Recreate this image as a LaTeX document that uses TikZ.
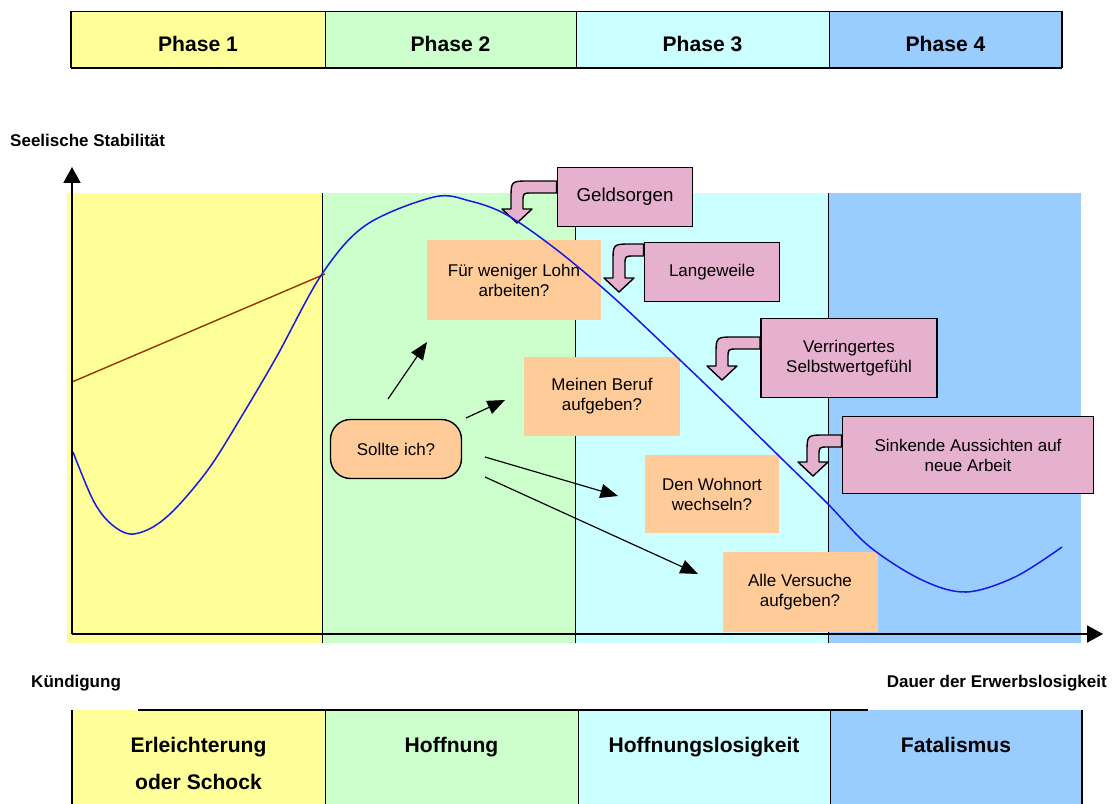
\documentclass[tikz,border=0pt]{standalone}
\usepackage{fontspec}
\setmainfont{Liberation Sans}
\usetikzlibrary{arrows.meta}

\definecolor{phaseyellow}{HTML}{FFFF99}
\definecolor{phasegreen}{HTML}{CCFFCC}
\definecolor{phasecyan}{HTML}{CCFFFF}
\definecolor{phaseblue}{HTML}{99CCFF}
\definecolor{questionorange}{HTML}{FFCC99}
\definecolor{stresspink}{HTML}{E6B1CF}
\definecolor{curveblue}{HTML}{1A1AE6}
\definecolor{linebrown}{HTML}{993300}

\tikzset{
  question/.style={fill=questionorange, align=center, font=\fontsize{14.5}{17}\selectfont},
  stress/.style={draw=black, line width=1.5pt, fill=stresspink, align=center, font=\fontsize{14.5}{17}\selectfont},
  bendarrow/.style={draw=black, line width=1.2pt, fill=stresspink, line join=round},
  choice/.style={line width=1pt, -{Triangle[length=15pt,width=12pt]}},
  axis/.style={line width=1.3pt, -{Triangle[length=13.5pt,width=14.5pt]}},
  divider/.style={line width=0.6pt},
  barlabel/.style={font=\bfseries\fontsize{18}{32}\selectfont, align=center},
  axislabel/.style={font=\bfseries\fontsize{14.5}{17}\selectfont, inner sep=0pt},
}

% #1 box, #2/#3 tip, #4 height of the shaft above the tip
\newcommand{\bentarrow}[4]{%
  \coordinate (inner) at (#2,{#3-#4+6});
  \coordinate (outer) at (#2,{#3-#4-6});
  \draw[bendarrow] (#2,#3) -- ++(15,-14) -- ++(-9,0) -- ({#2+6},{#3-#4+15})
    .. controls ({#2+6},{#3-#4+6}) .. ({#2+15},{#3-#4+6}) -- (inner -| #1.west)
    -- (outer -| #1.west) -- ({#2+12},{#3-#4-6})
    .. controls ({#2-6},{#3-#4-6}) .. ({#2-6},{#3-#4+12}) -- ({#2-6},{#3-14}) -- ++(-9,0) -- cycle;
}

\begin{document}
\begin{tikzpicture}[x=0.03cm, y=-0.03cm]
  \useasboundingbox (0,0) rectangle (1113,803);
  \clip (0,0) rectangle (1113,803);

  % phases on top
  \foreach \name/\xa/\xb/\col/\lab in {phaseA/71/325/phaseyellow/Phase 1, phaseB/325/576/phasegreen/Phase 2,
      phaseC/576/829/phasecyan/Phase 3, phaseD/829/1062/phaseblue/Phase 4}{
    \fill[\col] (\xa,11) rectangle (\xb,68);
    \node[barlabel] (\name) at ({(\xa+\xb)/2},44) {\lab};
    \draw[divider] (\xa,11) -- (\xa,68);
  }
  \draw[divider] (71,11) -- (1062,11);
  \draw[line width=1.5pt] (71,68) -- (1062,68);
  \draw[line width=1.2pt] (71,11) -- (71,68) (1062,11) -- (1062,68);

  % chart background
  \foreach \xa/\xb/\col in {67/322/phaseyellow, 322/575/phasegreen, 575/828/phasecyan, 828/1081/phaseblue}
    \fill[\col] (\xa,193) rectangle (\xb,643);
  \foreach \xd in {322,575,828}
    \draw[divider] (\xd,193) -- (\xd,643);

  \draw[linebrown, line width=1.2pt] (72,382) -- (325,274);

  % questions
  \node[question, minimum width=5.22cm, minimum height=2.4cm] (lohn) at (514,280) {Für weniger Lohn\\arbeiten?};
  \node[question, minimum width=4.68cm, minimum height=2.37cm] (beruf) at (602,396) {Meinen Beruf\\aufgeben?};
  \node[question, minimum width=4.02cm, minimum height=2.34cm] (wohnort) at (712,494) {Den Wohnort\\wechseln?};
  \node[question, minimum width=4.65cm, minimum height=2.4cm] (versuche) at (800,592) {Alle Versuche\\aufgeben?};
  \node[question, draw=black, line width=1.2pt, rounded corners=0.6cm,
        minimum width=3.93cm, minimum height=1.77cm] (sollte) at (396,449) {Sollte ich?};

  % stress factors
  \node[stress, minimum width=4.05cm, minimum height=1.77cm, font=\fontsize{16}{19}\selectfont] (geld) at (625,197) {Geldsorgen};
  \node[stress, minimum width=4.05cm, minimum height=1.77cm] (lange) at (712,272) {Langeweile};
  \node[stress, minimum width=5.28cm, minimum height=2.37cm] (verr) at (849,358) {Verringertes\\Selbstwertgefühl};
  \node[stress, minimum width=7.53cm, minimum height=2.31cm] (sink) at (968,455) {Sinkende Aussichten auf\\neue Arbeit};

  \bentarrow{geld}{517}{223}{36}
  \bentarrow{lange}{619}{292}{42}
  \bentarrow{verr}{722}{380}{37}
  \bentarrow{sink}{813}{476}{35}

  % options of Sollte ich?
  \coordinate (ask1) at (388,399);  \coordinate (opt1) at (427,342);
  \coordinate (ask2) at (466,418);  \coordinate (opt2) at (505,400);
  \coordinate (ask3) at (485,457);  \coordinate (opt3) at (618,496);
  \coordinate (ask4) at (485,477);  \coordinate (opt4) at (698,574);
  \draw[choice] (ask1) -- (opt1);
  \draw[choice] (ask2) -- (opt2);
  \draw[choice] (ask3) -- (opt3);
  \draw[choice] (ask4) -- (opt4);

  % stability curve
  \draw[curveblue, line width=1.3pt] plot[smooth, tension=0.55] coordinates {
    (73,452) (93,500) (110,523) (130,534) (153,527) (177,507) (210,467) (243,414)
    (277,356) (322,274) (366,225) (434,197) (470,201) (507,215) (557,250)
    (613,297) (680,360) (730,408) (780,457) (827,503) (870,547) (922,580) (966,592)
    (1015,577) (1062,547)};

  % axes
  \coordinate (origin) at (72,634);
  \draw[axis] (origin) -- (72,167);
  \draw[axis] (origin) -- (1103,634);
  \node[axislabel, anchor=west] (stab) at (10,140) {Seelische Stabilität};
  \node[axislabel, anchor=west] (kuend) at (31,683) {Kündigung};
  \node[axislabel, anchor=east] (dauer) at (1107,683) {Dauer der Erwerbslosigkeit};

  % feelings at the bottom
  \foreach \name/\xa/\xb/\col/\lab in {feelA/72/325/phaseyellow/{Erleichterung\\oder Schock}, feelB/325/578/phasegreen/Hoffnung,
      feelC/578/830/phasecyan/Hoffnungslosigkeit, feelD/830/1082/phaseblue/Fatalismus}{
    \fill[\col] (\xa,710) rectangle (\xb,810);
    \node[barlabel, anchor=north] (\name) at ({(\xa+\xb)/2},733) {\lab};
    \draw[divider] (\xa,710) -- (\xa,810);
  }
  \draw[line width=1.5pt] (138,710) -- (868,710);
  \draw[line width=1.3pt] (72,710) -- (72,810) (1082,710) -- (1082,810);
\end{tikzpicture}
\end{document}
